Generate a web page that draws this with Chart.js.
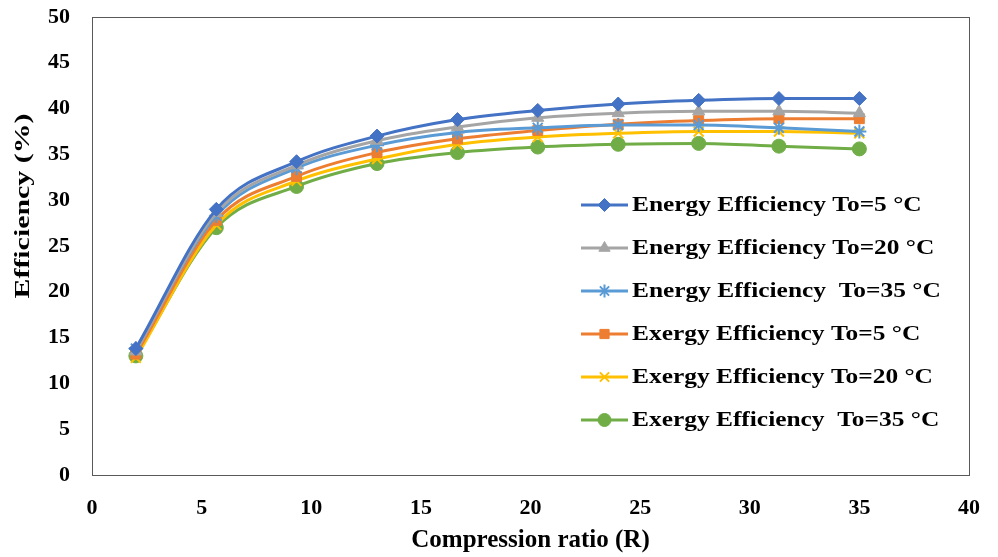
<!DOCTYPE html>
<html>
<head>
<meta charset="utf-8">
<script src="https://cdn.jsdelivr.net/npm/chart.js@4.4.1/dist/chart.umd.min.js"></script>
<style>
  html, body { margin: 0; padding: 0; background: #fff; }
  #wrap { width: 998px; height: 557px; }
</style>
</head>
<body>
<div id="wrap"><canvas id="effChart" width="998" height="557"></canvas></div>
<script>
// Compression ratio (x) and efficiency values (%)
const ratio = [2, 5.67, 9.33, 13, 16.67, 20.33, 24, 27.67, 31.33, 35];

const energyTo5  = [13.8, 29.0, 34.2, 37.0, 38.8, 39.8, 40.5, 40.9, 41.1, 41.1];
const energyTo20 = [13.5, 28.6, 33.8, 36.5, 38.0, 39.0, 39.5, 39.7, 39.7, 39.5];
const energyTo35 = [13.8, 28.3, 33.5, 36.0, 37.4, 37.9, 38.2, 38.2, 37.9, 37.5];
const exergyTo5  = [13.2, 27.8, 32.6, 35.2, 36.7, 37.6, 38.3, 38.7, 38.9, 38.9];
const exergyTo20 = [12.8, 27.3, 32.1, 34.5, 36.1, 36.9, 37.3, 37.5, 37.5, 37.3];
const exergyTo35 = [13.0, 27.0, 31.5, 34.0, 35.2, 35.8, 36.1, 36.2, 35.9, 35.6];

const xTicks = [0, 5, 10, 15, 20, 25, 30, 35, 40];
const yTicks = [0, 5, 10, 15, 20, 25, 30, 35, 40, 45, 50];

const seriesNames = [
    'Energy Efficiency To=5 \u00B0C',
    'Energy Efficiency To=20 \u00B0C',
    'Energy Efficiency  To=35 \u00B0C',
    'Exergy Efficiency To=5 \u00B0C',
    'Exergy Efficiency To=20 \u00B0C',
    'Exergy Efficiency  To=35 \u00B0C'
];
const yTitle = 'Efficiency (%)';

const FONT = '"Liberation Serif", "Times New Roman", serif';

function toPoints(values) {
    return values.map((v, i) => ({ x: ratio[i], y: v }));
}

function makeSet(label, values, color, style, radius) {
    return {
        label: label,
        data: toPoints(values),
        borderColor: color,
        backgroundColor: color,
        borderWidth: 3,
        pointStyle: style,
        pointRadius: radius,
        pointBorderWidth: (style === 'star' || style === 'crossRot') ? 2 : 1,
        pointBorderColor: color,
        pointBackgroundColor: color,
        cubicInterpolationMode: 'monotone',
        tension: 0.4,
        fill: false
    };
}

// frame around the plot area
const frameBox = {
    id: 'frameBox',
    afterDatasetsDraw(chart) {
        const a = chart.chartArea;
        const ctx = chart.ctx;
        ctx.save();
        ctx.strokeStyle = '#595959';
        ctx.lineWidth = 1;
        ctx.strokeRect(a.left + 0.5, a.top + 0.5, a.right - a.left, a.bottom - a.top);
        ctx.restore();
    }
};

// rotated y title, stretched along its length like the figure
const yTitlePlugin = {
    id: 'yTitlePlugin',
    afterDraw(chart) {
        const ctx = chart.ctx;
        ctx.save();
        ctx.font = 'bold 20px ' + FONT;
        const w = ctx.measureText(yTitle).width;
        ctx.translate(24, 206);
        ctx.rotate(-Math.PI / 2);
        ctx.scale(185 / w, 1);
        ctx.textAlign = 'center';
        ctx.textBaseline = 'middle';
        ctx.fillStyle = '#000';
        ctx.fillText(yTitle, 0, 0);
        ctx.restore();
    }
};

// legend drawn inside the plot, right-middle
const insideLegend = {
    id: 'insideLegend',
    afterDraw(chart) {
        const ctx = chart.ctx;
        const x0 = 581, x1 = 628, textX = 632;
        const yStart = 205, step = 43;
        ctx.save();
        ctx.textBaseline = 'middle';
        chart.data.datasets.forEach((ds, i) => {
            const y = yStart + i * step;
            ctx.strokeStyle = ds.borderColor;
            ctx.lineWidth = 3;
            ctx.beginPath();
            ctx.moveTo(x0, y);
            ctx.lineTo(x1, y);
            ctx.stroke();
            ctx.fillStyle = ds.borderColor;
            ctx.lineWidth = ds.pointBorderWidth;
            Chart.helpers.drawPoint(ctx, {
                pointStyle: ds.pointStyle,
                radius: 6.5,
                rotation: 0,
                borderWidth: ds.pointBorderWidth
            }, (x0 + x1) / 2, y);
            // text in the figure is stretched horizontally
            ctx.save();
            ctx.translate(textX, y + 1);
            ctx.scale(1.27, 1);
            ctx.font = 'bold 20px ' + FONT;
            ctx.fillStyle = '#000';
            ctx.fillText(ds.label, 0, 0);
            ctx.restore();
        });
        ctx.restore();
    }
};

document.addEventListener('DOMContentLoaded', () => {
    const ctx = document.getElementById('effChart');

    new Chart(ctx, {
        type: 'line',
        data: {
            datasets: [
                makeSet(seriesNames[0], energyTo5,  '#4472C4', 'rectRot', 7),
                makeSet(seriesNames[1], energyTo20, '#A5A5A5', 'triangle', 7),
                makeSet(seriesNames[2], energyTo35, '#5B9BD5', 'star', 7),
                makeSet(seriesNames[3], exergyTo5,  '#ED7D31', 'rect', 7),
                makeSet(seriesNames[4], exergyTo20, '#FFC000', 'crossRot', 7),
                makeSet(seriesNames[5], exergyTo35, '#70AD47', 'circle', 7)
            ]
        },
        options: {
            responsive: false,
            animation: false,
            layout: { padding: { top: 17, right: 29, left: 0, bottom: 0 } },
            plugins: {
                legend: { display: false },
                tooltip: { enabled: false }
            },
            scales: {
                x: {
                    type: 'linear',
                    min: 0,
                    max: 40,
                    afterBuildTicks: (scale) => { scale.ticks = xTicks.map(v => ({ value: v })); },
                    afterFit: (scale) => {
                        scale.height = 82;
                        scale.paddingLeft = 0;
                        scale.paddingRight = 0;
                    },
                    grid: { display: false, drawTicks: false },
                    border: { display: false },
                    ticks: {
                        padding: 20,
                        color: '#000',
                        font: { family: FONT, size: 22, weight: 'bold' }
                    },
                    title: {
                        display: true,
                        text: 'Compression ratio (R)',
                        color: '#000',
                        font: { family: FONT, size: 25, weight: 'bold' },
                        padding: { top: 6, bottom: 1 }
                    }
                },
                y: {
                    min: 0,
                    max: 50,
                    afterBuildTicks: (scale) => { scale.ticks = yTicks.map(v => ({ value: v })); },
                    afterFit: (scale) => {
                        scale.width = 92;
                        scale.paddingTop = 0;
                        scale.paddingBottom = 0;
                    },
                    grid: { display: false, drawTicks: false },
                    border: { display: false },
                    ticks: {
                        padding: 22,
                        color: '#000',
                        font: { family: FONT, size: 22, weight: 'bold' }
                    },
                    title: { display: false }
                }
            }
        },
        plugins: [frameBox, yTitlePlugin, insideLegend]
    });
});
</script>
</body>
</html>
